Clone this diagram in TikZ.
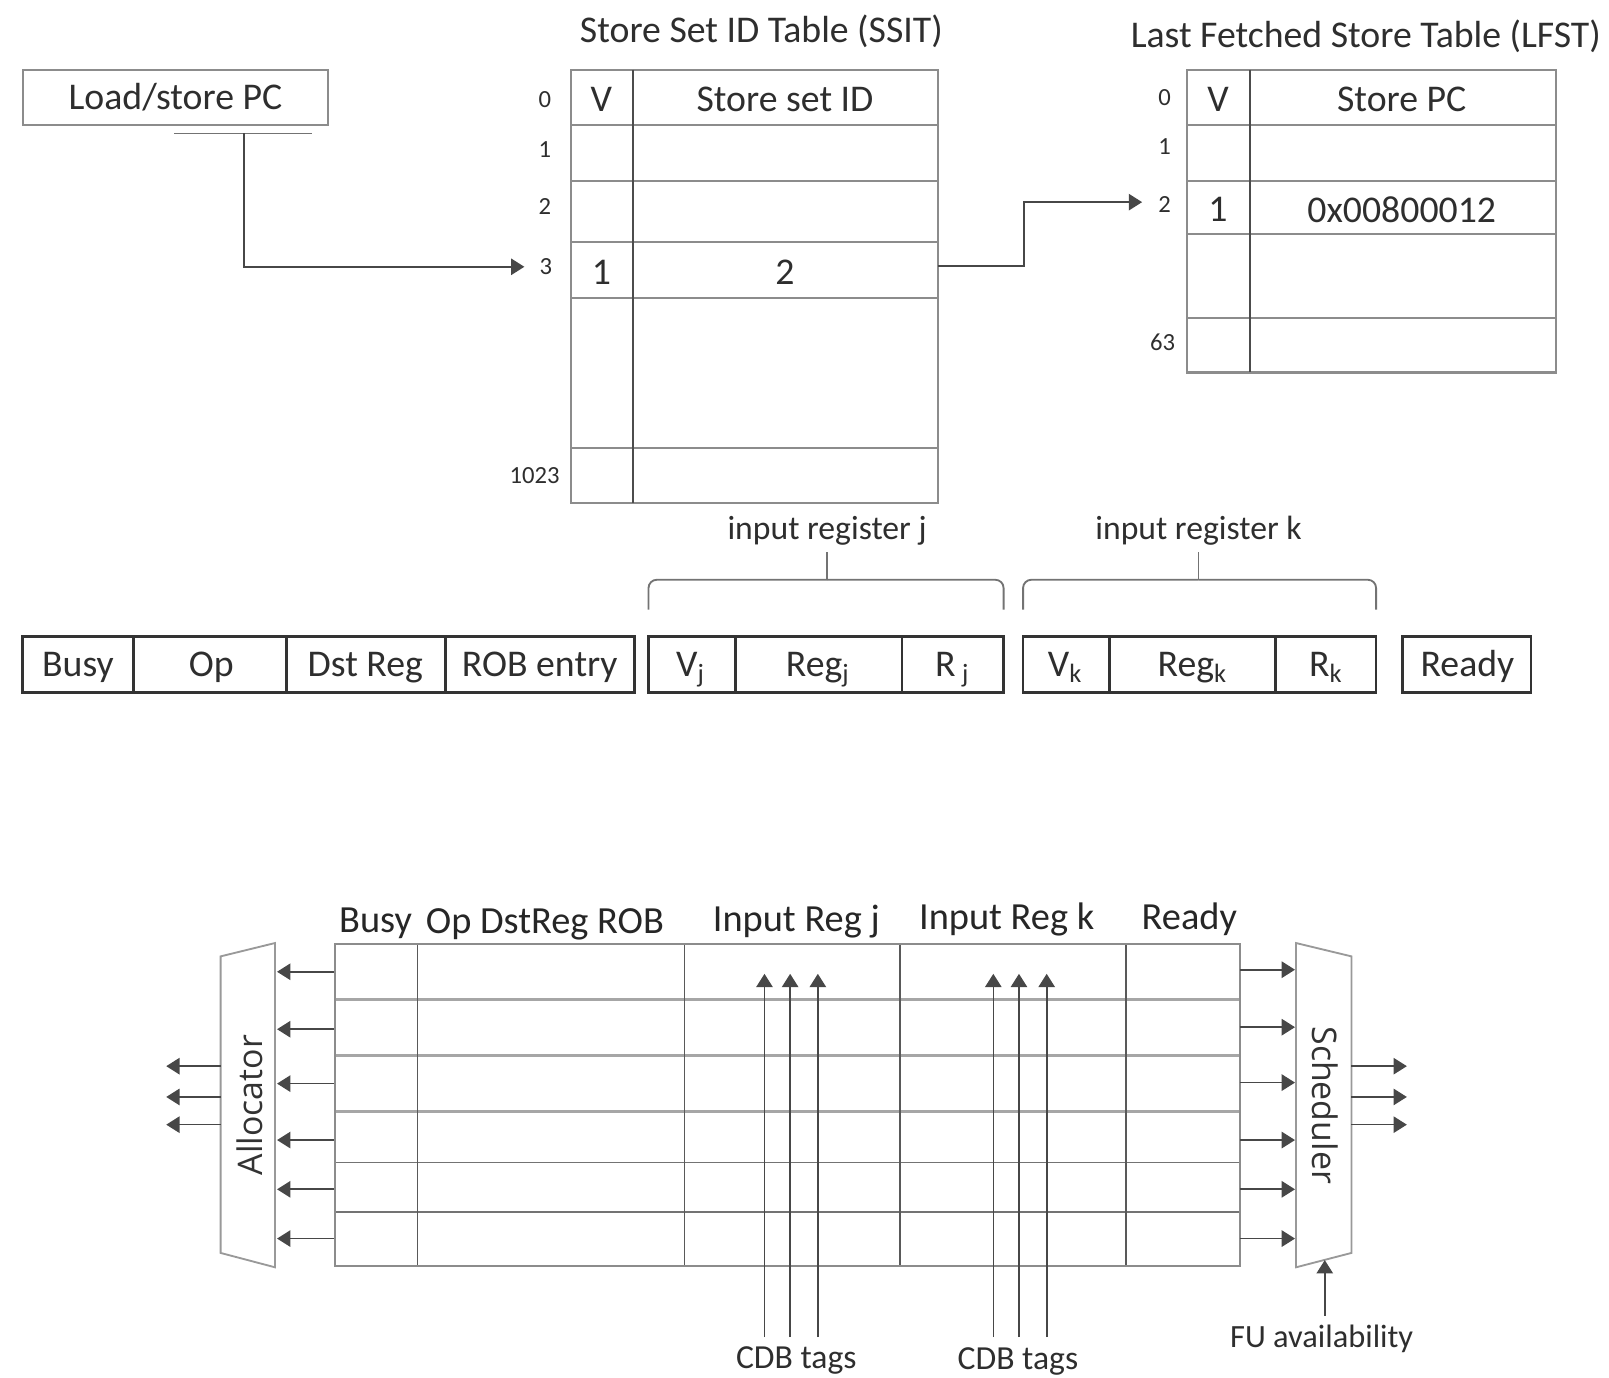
\documentclass[tikz,border=0pt]{standalone}
\usepackage{fontspec}
\setmainfont{Carlito}
\newfontfamily\rotfont{Open Sans}
\usetikzlibrary{arrows.meta}
\begin{document}
\begin{tikzpicture}[x=0.5pt,y=-0.5pt,
  txt/.style={text=black!82, inner sep=0pt, font=\fontsize{18.4}{20}\selectfont},
  mid/.style={text=black!82, inner sep=0pt, font=\fontsize{16.4}{18}\selectfont},
  big/.style={text=black!85, inner sep=0pt, font=\fontsize{18.7}{21}\selectfont},
  small/.style={text=black!82, inner sep=0pt, font=\fontsize{12}{14}\selectfont},
  rot/.style={text=black!80, inner sep=0pt, font=\rotfont\fontsize{16.5}{18}\selectfont},
  tbl/.style={draw=black!45, line width=1pt},
  div/.style={draw=black!70, line width=0.8pt},
  cellbox/.style={draw=black!80, line width=1.3pt},
  conn/.style={draw=black!72, line width=0.8pt},
  arr/.style={conn, -{Triangle[length=6.5pt,width=8pt]}},
  bracestyle/.style={draw=black!55, line width=0.9pt, rounded corners=4pt},
  gbox/.style={draw=black!45, line width=1pt},
  rowthick/.style={draw=black!35, line width=1.4pt},
  rowthin/.style={draw=black!55, line width=0.8pt},
  gdiv/.style={draw=black!65, line width=0.8pt},
  trap/.style={draw=black!40, line width=0.9pt},
]
\useasboundingbox (0,0) rectangle (1568,1342);

% ---------- Load/store PC ----------
\node[txt, draw=black!45, line width=1pt, minimum width=149pt, minimum height=27pt] (lspc) at (171,95) {Load/store PC};
\coordinate (barL) at (170,130);
\coordinate (barR) at (304,130);
\draw[conn, draw=black!55] (barL) -- (barR);
\coordinate (lsTap) at (238,130);
\coordinate (ssitIn) at (511,260);
\draw[arr] (lsTap) |- (ssitIn);

% ---------- SSIT ----------
\node[txt] (ssitT) at (742,31) {Store Set ID Table (SSIT)};
\draw[tbl] (556,68) rectangle (914,490);
\foreach \y in {122,176,236,290,437} \draw[tbl] (556,\y) -- (914,\y);
\draw[div] (617,68) -- (617,490);
\node[small] (s0) at (531,97) {0};
\node[small] (s1) at (531,146) {1};
\node[small] (s2) at (531,201) {2};
\node[small] (s3) at (532,260) {3};
\node[small] (s1023) at (521,463) {1023};
\node[txt] (ssitV) at (586,97) {V};
\node[txt] (ssitID) at (765,97) {Store set ID};
\node[txt] (ssitV3) at (586,265) {1};
\node[txt] (ssitID3) at (765,265) {2};

% ---------- LFST ----------
\node[txt] (lfstT) at (1331,35) {Last Fetched Store Table (LFST)};
\draw[tbl] (1157,68) rectangle (1516,363);
\foreach \y in {122,176,228,310} \draw[tbl] (1157,\y) -- (1516,\y);
\draw[div] (1218,68) -- (1218,363);
\node[small] (l0) at (1135,95) {0};
\node[small] (l1) at (1135,143) {1};
\node[small] (l2) at (1135,199) {2};
\node[small] (l63) at (1133,334) {63};
\node[txt] (lfstV) at (1187,97) {V};
\node[txt] (lfstPC) at (1366,97) {Store PC};
\node[txt] (lfstV2) at (1187,204) {1};
\node[txt] (lfstPC2) at (1366,204) {0x00800012};

\coordinate (ssitOut) at (914,259);
\coordinate (lfstIn) at (1113,197);
\draw[arr] (ssitOut) -- (998,259) |- (lfstIn);

% ---------- Reservation station entry ----------
\node[mid] (irj) at (806,517) {input register j};
\node[mid] (irk) at (1168,517) {input register k};
\draw[bracestyle] (632,594) |- (806,565);
\draw[bracestyle] (978,594) |- (806,565);
\draw[bracestyle, rounded corners=0pt] (806,565) -- (806,538);
\draw[bracestyle] (997,594) |- (1168,565);
\draw[bracestyle] (1341,594) |- (1168,565);
\draw[bracestyle, rounded corners=0pt] (1168,565) -- (1168,538);

\draw[cellbox] (22,620) rectangle (618,675);
\foreach \x in {130,279,434} \draw[cellbox] (\x,620) -- (\x,675);
\draw[cellbox] (632,620) rectangle (978,675);
\foreach \x in {717,879} \draw[cellbox] (\x,620) -- (\x,675);
\draw[cellbox] (997,620) rectangle (1341,675);
\foreach \x in {1081,1243} \draw[cellbox] (\x,620) -- (\x,675);
\draw[cellbox] (1367,620) rectangle (1492,675);

\node[txt, anchor=base] (eBusy) at (76,659) {Busy};
\node[txt, anchor=base] (eOp) at (206,659) {Op};
\node[txt, anchor=base] (eDst) at (356,659) {Dst Reg};
\node[txt, anchor=base] (eRob) at (526,659) {ROB entry};
\node[txt, anchor=base] (eVj) at (673,659) {V\textsubscript{j}};
\node[txt, anchor=base] (eRegj) at (797,659) {Reg\textsubscript{j}};
\node[txt, anchor=base] (eRj) at (928,659) {R\,\textsubscript{j}};
\node[txt, anchor=base] (eVk) at (1038,659) {V\textsubscript{k}};
\node[txt, anchor=base] (eRegk) at (1162,659) {Reg\textsubscript{k}};
\node[txt, anchor=base] (eRk) at (1292,659) {R\textsubscript{k}};
\node[txt, anchor=base] (eReady) at (1430,659) {Ready};

% ---------- Bottom: issue queue ----------
\node[big, anchor=base] (hBusy) at (366,909) {Busy};
\node[big, anchor=base] (hOp) at (531,910) {Op DstReg ROB};
\node[big, anchor=base] (hRj) at (776,908) {Input Reg j};
\node[big, anchor=base] (hRk) at (981,906) {Input Reg k};
\node[big, anchor=base] (hReady) at (1159,906) {Ready};

\foreach \y in {974,1029,1083} \draw[rowthick] (326,\y) -- (1208,\y);
\foreach \y in {1133,1181} \draw[rowthin] (326,\y) -- (1208,\y);
\foreach \x in {407,667,877,1097} \draw[gdiv] (\x,920) -- (\x,1234);
\draw[gbox] (326,920) rectangle (1208,1234);

% CDB tags
\foreach \x [count=\i] in {745,770,797} {
  \coordinate (cj\i) at (\x,1303);
  \coordinate (tj\i) at (\x,949);
  \draw[arr] (cj\i) -- (tj\i);
}
\foreach \x [count=\i] in {968,993,1020} {
  \coordinate (ck\i) at (\x,1303);
  \coordinate (tk\i) at (\x,949);
  \draw[arr] (ck\i) -- (tk\i);
}
\node[mid] (cdbj) at (776,1326) {CDB tags};
\node[mid] (cdbk) at (992,1327) {CDB tags};

% Allocator
\draw[trap] (215,932) -- (268,919) -- (268,1235) -- (215,1221) -- cycle;
\node[rot, rotate=90] (alloc) at (243,1077) {Allocator};
\foreach \y [count=\i] in {947,1003,1056,1111,1159,1207} {
  \coordinate (aS\i) at (325,\y);
  \coordinate (aT\i) at (270,\y);
  \draw[arr] (aS\i) -- (aT\i);
}
\foreach \y [count=\i] in {1039,1069,1096} {
  \coordinate (aoS\i) at (215,\y);
  \coordinate (aoT\i) at (162,\y);
  \draw[arr] (aoS\i) -- (aoT\i);
}

% Scheduler
\draw[trap] (1263,919) -- (1317,932) -- (1317,1221) -- (1263,1235) -- cycle;
\node[rot, rotate=-90] (sched) at (1291,1077) {Scheduler};
\foreach \y [count=\i] in {945,1001,1055,1111,1159,1207} {
  \coordinate (sS\i) at (1208,\y);
  \coordinate (sT\i) at (1262,\y);
  \draw[arr] (sS\i) -- (sT\i);
}
\foreach \y [count=\i] in {1039,1069,1096} {
  \coordinate (soS\i) at (1317,\y);
  \coordinate (soT\i) at (1371,\y);
  \draw[arr] (soS\i) -- (soT\i);
}
\coordinate (fuS) at (1291,1282);
\coordinate (fuT) at (1291,1228);
\draw[arr] (fuS) -- (fuT);
\node[mid, font=\fontsize{15.8}{18}\selectfont] (fu) at (1288,1305) {FU availability};
\end{tikzpicture}
\end{document}
